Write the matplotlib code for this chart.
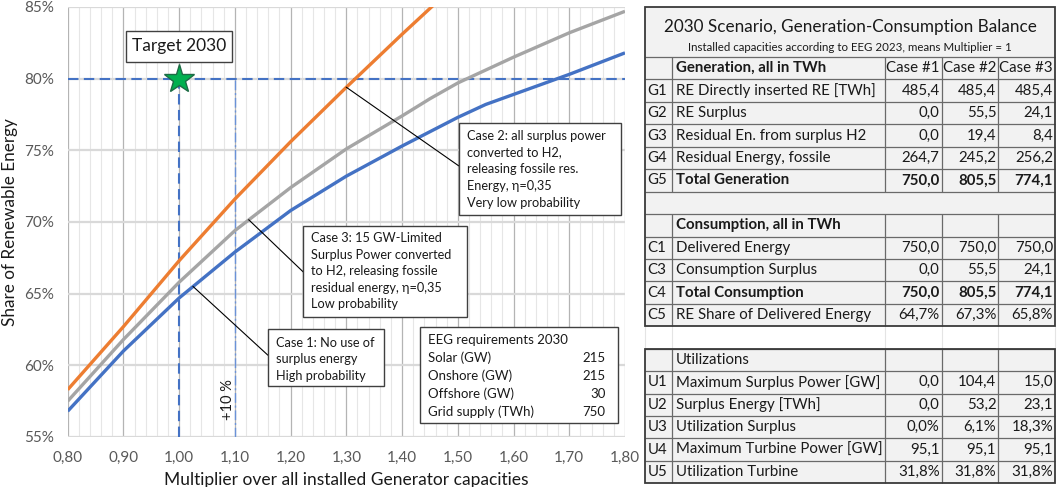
import matplotlib
matplotlib.use('Agg')
import matplotlib.pyplot as plt
import numpy as np
from matplotlib.patches import Rectangle

plt.rcParams['font.family'] = ['Lato', 'DejaVu Sans']

# ---------------- data ----------------
multiplier = [0.80, 0.90, 1.00, 1.10, 1.20, 1.30, 1.40, 1.45, 1.50, 1.55, 1.60, 1.70, 1.80]
case1 = [56.8, 61.0, 64.7, 67.9, 70.8, 73.2, 75.3, 76.3, 77.3, 78.2, 78.9, 80.3, 81.8]
case3 = [57.5, 61.8, 65.8, 69.4, 72.4, 75.1, 77.4, 78.6, 79.7, 80.6, 81.5, 83.2, 84.7]
multiplier_c2 = [0.80, 0.90, 1.00, 1.10, 1.20, 1.30, 1.40, 1.50]
case2 = [58.3, 62.7, 67.3, 71.6, 75.6, 79.4, 83.1, 86.7]

target_x = 1.00
target_y = 80.0
plus10_x = 1.10

x_ticks = [0.80, 0.90, 1.00, 1.10, 1.20, 1.30, 1.40, 1.50, 1.60, 1.70, 1.80]
x_tick_labels = ['0,80', '0,90', '1,00', '1,10', '1,20', '1,30', '1,40', '1,50', '1,60', '1,70', '1,80']
y_ticks = [55, 60, 65, 70, 75, 80, 85]
y_tick_labels = ['55%', '60%', '65%', '70%', '75%', '80%', '85%']

case2_text = ['Case 2: all surplus power', 'converted to H2,', 'releasing fossile res.',
              'Energy, \u03b7=0,35', 'Very low probability']
case3_text = ['Case 3: 15 GW-Limited', 'Surplus Power converted', 'to H2, releasing fossile',
              'residual energy, \u03b7=0,35', 'Low probability']
case1_text = ['Case 1: No use of', 'surplus energy', 'High probability']
eeg_title = 'EEG requirements 2030'
eeg_items = ['Solar (GW)', 'Onshore (GW)', 'Offshore (GW)', 'Grid supply (TWh)']
eeg_values = ['215', '215', '30', '750']

table_title = '2030 Scenario, Generation-Consumption Balance'
table_subtitle = 'Installed capacities according to EEG 2023, means Multiplier = 1'
case_headers = ['Case #1', 'Case #2', 'Case #3']
gen_header = 'Generation, all in TWh'
gen_codes = ['G1', 'G2', 'G3', 'G4', 'G5']
gen_labels = ['RE Directly inserted RE [TWh]', 'RE Surplus', 'Residual En. from surplus H2',
              'Residual Energy, fossile', 'Total Generation']
gen_values = [['485,4', '485,4', '485,4'], ['0,0', '55,5', '24,1'], ['0,0', '19,4', '8,4'],
              ['264,7', '245,2', '256,2'], ['750,0', '805,5', '774,1']]
con_header = 'Consumption, all in TWh'
con_codes = ['C1', 'C3', 'C4', 'C5']
con_labels = ['Delivered Energy', 'Consumption Surplus', 'Total Consumption',
              'RE Share of Delivered Energy']
con_values = [['750,0', '750,0', '750,0'], ['0,0', '55,5', '24,1'],
              ['750,0', '805,5', '774,1'], ['64,7%', '67,3%', '65,8%']]
util_header = 'Utilizations'
util_codes = ['U1', 'U2', 'U3', 'U4', 'U5']
util_labels = ['Maximum Surplus Power [GW]', 'Surplus Energy [TWh]', 'Utilization Surplus',
               'Maximum Turbine Power [GW]', 'Utilization Turbine']
util_values = [['0,0', '104,4', '15,0'], ['0,0', '53,2', '23,1'], ['0,0%', '6,1%', '18,3%'],
               ['95,1', '95,1', '95,1'], ['31,8%', '31,8%', '31,8%']]

# ---------------- figure ----------------
W, H = 1059, 487
fig = plt.figure(figsize=(W / 100, H / 100), dpi=100)
fig.patch.set_facecolor('white')

ax_l, ax_r, ax_t, ax_b = 67.7, 625.0, 7.0, 437.0
ax = fig.add_axes([ax_l / W, (H - ax_b) / H, (ax_r - ax_l) / W, (ax_b - ax_t) / H])
ax.set_xlim(0.80, 1.80)
ax.set_ylim(55, 85)
for s in ax.spines.values():
    s.set_visible(False)

ax.set_xticks(x_ticks)
ax.set_xticklabels(x_tick_labels)
ax.set_xticks(np.arange(0.80, 1.8001, 0.02), minor=True)
ax.set_yticks(y_ticks)
ax.set_yticklabels(y_tick_labels)
ax.tick_params(axis='both', which='both', length=0, colors='#595959', labelsize=11)
ax.tick_params(axis='x', pad=10)
ax.tick_params(axis='y', pad=10)
ax.grid(axis='x', which='minor', color='#e6e6e6', lw=0.8)
ax.grid(axis='x', which='major', color='#b4b4b4', lw=0.9)
ax.grid(axis='y', which='major', color='#d9d9d9', lw=1.6)
ax.set_axisbelow(True)

ax.set_xlabel('Multiplier over all installed Generator capacities', fontsize=12.5,
              color='#1a1a1a', labelpad=5)
ax.set_ylabel('Share of Renewable Energy', fontsize=12.3, color='#1a1a1a', labelpad=4)

# reference lines
blue = '#4472C4'
l1, = ax.plot([0.80, 1.80], [target_y, target_y], color=blue, lw=1.5, zorder=3)
l1.set_dashes([5, 2.6])
l2, = ax.plot([target_x, target_x], [55, target_y], color=blue, lw=1.5, zorder=3)
l2.set_dashes([5, 2.6])
ax.plot([plus10_x, plus10_x], [55, target_y], color='#6a92d8', lw=1.0,
        linestyle=(0, (7, 2, 1.5, 2)), zorder=3)

# curves
ax.plot(multiplier, case3, color='#A5A5A5', lw=2.4, zorder=4, solid_capstyle='butt')
ax.plot(multiplier, case1, color='#4472C4', lw=2.4, zorder=4, solid_capstyle='butt')
ax.plot(multiplier_c2, case2, color='#ED7D31', lw=2.4, zorder=4, solid_capstyle='butt')

ax.plot([target_x], [target_y], marker='*', ms=22, color='#00B050', mec='#1d6b45',
        mew=1.0, zorder=6, clip_on=False)

ax.text(plus10_x - 0.013, 56.2, '+10 %', rotation=90, fontsize=10.5, color='#1a1a1a',
        ha='center', va='bottom', zorder=5)

# ---------------- overlay (pixel coordinates) ----------------
ov = fig.add_axes([0, 0, 1, 1], zorder=10)
ov.set_xlim(0, W)
ov.set_ylim(H, 0)
ov.axis('off')
ov.patch.set_visible(False)

fig.canvas.draw()


def to_px(x, y):
    dx, dy = ax.transData.transform((x, y))
    return dx, H - dy


TXT = '#1a1a1a'
BFS = 9.2


def box(x0, y0, x1, y1, fc='white', ec='#404040', lw=1.0, z=2):
    ov.add_patch(Rectangle((x0, y0), x1 - x0, y1 - y0, fc=fc, ec=ec, lw=lw, zorder=z))


# leader lines
p = to_px(1.30, case2[5])
ov.plot([p[0], 458.5], [p[1], 165.7], color='black', lw=0.8, zorder=1)
p = to_px(1.125, np.interp(1.125, multiplier, case3))
ov.plot([p[0], 303.3], [p[1], 272.0], color='black', lw=0.8, zorder=1)
p = to_px(1.025, np.interp(1.025, multiplier, case1))
ov.plot([p[0], 267.7], [p[1], 355.0], color='black', lw=0.8, zorder=1)

# target box
box(126, 30.7, 232, 61.7)
ov.text(179, 46.5, 'Target 2030', fontsize=12.5, ha='center', va='center', color=TXT, zorder=3)

# case 2 box
box(459, 122.7, 620.7, 215)
for i, t in enumerate(case2_text):
    ov.text(467, 136 + 16.65 * i, t, fontsize=BFS, ha='left', va='center', color=TXT, zorder=3)

# case 3 box
box(303.3, 225.7, 466.7, 317.3)
for i, t in enumerate(case3_text):
    ov.text(311, 238.5 + 16.4 * i, t, fontsize=BFS, ha='left', va='center', color=TXT, zorder=3)

# case 1 box
box(267.7, 329.3, 384.3, 386)
for i, t in enumerate(case1_text):
    ov.text(276.5, 342.7 + 16.5 * i, t, fontsize=BFS, ha='left', va='center', color=TXT, zorder=3)

# EEG box
box(420, 327.3, 618.3, 422.7)
ov.text(428.3, 340, eeg_title, fontsize=9.5, ha='left', va='center', color=TXT, zorder=3)
for i, (t, v) in enumerate(zip(eeg_items, eeg_values)):
    yy = 358.2 + 17.9 * i
    ov.text(428.3, yy, t, fontsize=9.5, ha='left', va='center', color=TXT, zorder=3)
    ov.text(605.7, yy, v, fontsize=9.5, ha='right', va='center', color=TXT, zorder=3)

# ---------------- table ----------------
cx = [645.0, 672.3, 885.0, 941.7, 998.3, 1055.0]
t_top = 7.0
r0 = 57.0
rh = 22.44
FS = 10.8
inner = '#6a6a6a'
outer = '#3a3a3a'
bg = '#f2f2f2'


def rowy(i):
    return r0 + rh * i


box(cx[0], t_top, cx[-1], rowy(12), fc=bg, ec='none', lw=0, z=1)
box(cx[0], rowy(13), cx[-1], rowy(19), fc=bg, ec='none', lw=0, z=1)

for x in cx:
    ov.plot([x, x], [rowy(12), rowy(13)], color='#e4e4e4', lw=0.8, zorder=1)


def hline(y, x0=cx[0], x1=cx[-1], c=inner, lw=0.9):
    ov.plot([x0, x1], [y, y], color=c, lw=lw, zorder=2, solid_capstyle='butt')


def vline(x, y0, y1, c=inner, lw=0.9):
    ov.plot([x, x], [y0, y1], color=c, lw=lw, zorder=2, solid_capstyle='butt')


for i in range(0, 12):
    hline(rowy(i))
for x in cx[1:-1]:
    vline(x, rowy(0), rowy(6))
    vline(x, rowy(7), rowy(12))
for i in range(13, 19):
    hline(rowy(i))
for x in cx[1:-1]:
    vline(x, rowy(13), rowy(19))
ov.add_patch(Rectangle((cx[0], t_top), cx[-1] - cx[0], rowy(12) - t_top, fc='none',
                       ec=outer, lw=1.3, zorder=3))
ov.add_patch(Rectangle((cx[0], rowy(13)), cx[-1] - cx[0], rowy(19) - rowy(13), fc='none',
                       ec=outer, lw=1.3, zorder=3))

ov.text((cx[0] + cx[-1]) / 2, 27.0, table_title, fontsize=12.3, ha='center', va='center',
        color=TXT, zorder=4)
ov.text((cx[0] + cx[-1]) / 2, 47.5, table_subtitle, fontsize=8.3, ha='center', va='center',
        color=TXT, zorder=4)


def put_row(i, code, label, vals, bold=False, label_bold=None):
    yc = rowy(i) + rh / 2
    lb = bold if label_bold is None else label_bold
    if code:
        ov.text(cx[0] + 2.5, yc, code, fontsize=FS, ha='left', va='center', color=TXT, zorder=4)
    ov.text(cx[1] + 3.5, yc, label, fontsize=FS, ha='left', va='center', color=TXT,
            fontweight='bold' if lb else 'normal', zorder=4)
    for j, v in enumerate(vals):
        ov.text(cx[3 + j] - 2.0, yc, v, fontsize=FS, ha='right', va='center', color=TXT,
                fontweight='bold' if bold else 'normal', zorder=4)


put_row(0, '', gen_header, case_headers, bold=False, label_bold=True)
for k in range(5):
    put_row(1 + k, gen_codes[k], gen_labels[k], gen_values[k], bold=(k == 4))
put_row(7, '', con_header, [], label_bold=True)
for k in range(4):
    put_row(8 + k, con_codes[k], con_labels[k], con_values[k], bold=(k == 2))
put_row(13, '', util_header, [])
for k in range(5):
    put_row(14 + k, util_codes[k], util_labels[k], util_values[k])

fig.savefig('out.png', dpi=100, facecolor='white')
